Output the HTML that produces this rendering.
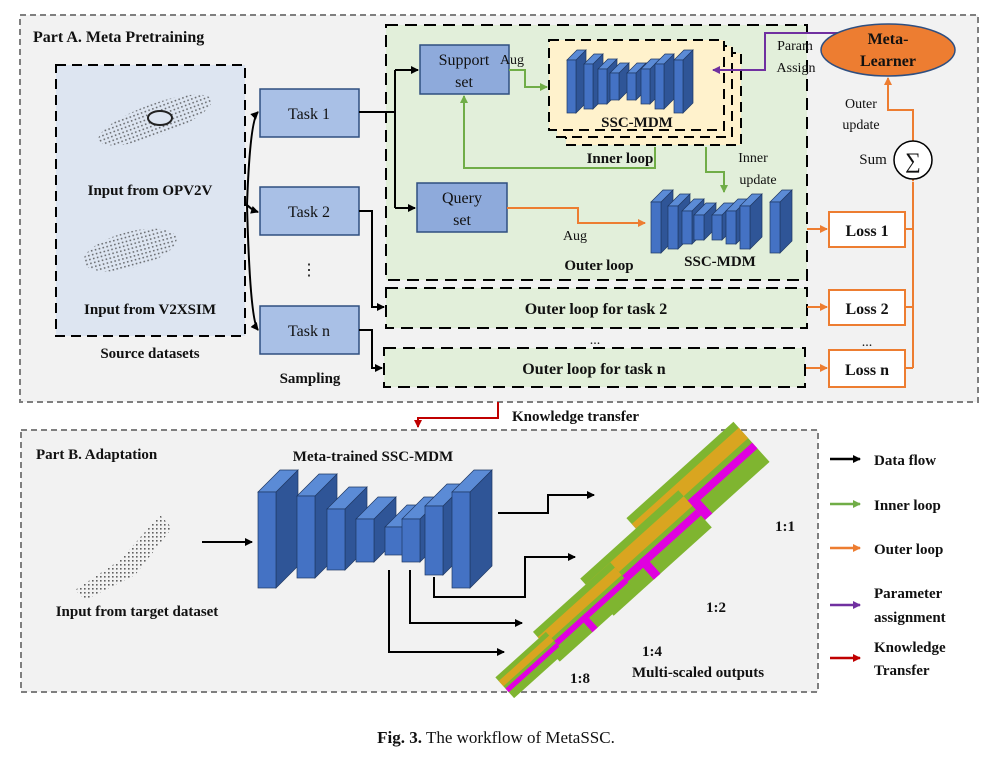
<!DOCTYPE html>
<html><head><meta charset="utf-8"><style>
html,body{margin:0;padding:0;background:#fff;}
svg{display:block;}
text{font-family:"Liberation Serif",serif;fill:#111;}
.b{font-weight:bold;}
</style></head><body>
<svg id="s" width="992" height="758" viewBox="0 0 992 758" xmlns="http://www.w3.org/2000/svg">
<defs>
<marker id="ak" markerWidth="8" markerHeight="8" refX="7" refY="4" orient="auto" markerUnits="userSpaceOnUse"><path d="M0,0 L8,4 L0,8 z" fill="#000"/></marker>
<marker id="ag" markerWidth="8" markerHeight="8" refX="7" refY="4" orient="auto" markerUnits="userSpaceOnUse"><path d="M0,0 L8,4 L0,8 z" fill="#70ad47"/></marker>
<marker id="ao" markerWidth="8" markerHeight="8" refX="7" refY="4" orient="auto" markerUnits="userSpaceOnUse"><path d="M0,0 L8,4 L0,8 z" fill="#ed7d31"/></marker>
<marker id="ap" markerWidth="8" markerHeight="8" refX="7" refY="4" orient="auto" markerUnits="userSpaceOnUse"><path d="M0,0 L8,4 L0,8 z" fill="#7030a0"/></marker>
<marker id="ar" markerWidth="8" markerHeight="8" refX="7" refY="4" orient="auto" markerUnits="userSpaceOnUse"><path d="M0,0 L8,4 L0,8 z" fill="#c00000"/></marker>
<pattern id="dots" width="4" height="4" patternUnits="userSpaceOnUse"><rect width="1.6" height="1.6" fill="#222"/></pattern>
</defs>

<!-- Part A -->
<rect x="20" y="15" width="958" height="387" fill="#f2f2f2" stroke="#7f7f7f" stroke-width="2" stroke-dasharray="6,4"/>
<text x="33" y="42" class="b" font-size="16">Part A. Meta Pretraining</text>
<rect x="56" y="65" width="189" height="271" fill="#dde5f1" stroke="#000" stroke-width="2" stroke-dasharray="10,6"/>
<g fill="url(#dots)" opacity="0.6">
<ellipse cx="155" cy="120" rx="60" ry="16" transform="rotate(-20 155 120)"/>
<ellipse cx="130" cy="250" rx="48" ry="18" transform="rotate(-15 130 250)"/>
</g>
<ellipse cx="160" cy="118" rx="12" ry="7" fill="#dde5f1" stroke="#222" stroke-width="2"/>
<text x="150" y="195" class="b" font-size="15" text-anchor="middle">Input from OPV2V</text>
<text x="150" y="314" class="b" font-size="15" text-anchor="middle">Input from V2XSIM</text>
<text x="150" y="358" class="b" font-size="15" text-anchor="middle">Source datasets</text>

<g fill="#a9c0e6" stroke="#2f4f80" stroke-width="1.5">
<rect x="260" y="89" width="99" height="48"/>
<rect x="260" y="187" width="99" height="48"/>
<rect x="260" y="306" width="99" height="48"/>
</g>
<text x="309" y="119" font-size="16" text-anchor="middle">Task 1</text>
<text x="309" y="217" font-size="16" text-anchor="middle">Task 2</text>
<text x="309" y="336" font-size="16" text-anchor="middle">Task n</text>
<text x="309" y="275" font-size="16" text-anchor="middle">⋮</text>
<text x="310" y="383" class="b" font-size="15" text-anchor="middle">Sampling</text>
<g fill="none" stroke="#000" stroke-width="2">
<path d="M247,205 Q250,120 258,112" marker-end="url(#ak)"/>
<path d="M247,205 Q252,210 258,212" marker-end="url(#ak)"/>
<path d="M247,205 Q250,320 258,330" marker-end="url(#ak)"/>
</g>

<!-- green region -->
<rect x="386" y="25" width="421" height="255" fill="#e2efda" stroke="#000" stroke-width="2" stroke-dasharray="12,7"/>
<rect x="386" y="288" width="421" height="40" fill="#e2efda" stroke="#000" stroke-width="2" stroke-dasharray="12,7"/>
<rect x="384" y="348" width="421" height="39" fill="#e2efda" stroke="#000" stroke-width="2" stroke-dasharray="12,7"/>
<text x="596" y="314" class="b" font-size="16" text-anchor="middle">Outer loop for task 2</text>
<text x="594" y="374" class="b" font-size="16" text-anchor="middle">Outer loop for task n</text>
<text x="595" y="344" font-size="14" text-anchor="middle">...</text>

<g fill="none" stroke="#000" stroke-width="2">
<path d="M359,112 L395,112"/>
<path d="M395,70 L395,208"/>
<path d="M395,70 L418,70" marker-end="url(#ak)"/>
<path d="M395,208 L415,208" marker-end="url(#ak)"/>
<path d="M359,211 L372,211 L372,307 L384,307" marker-end="url(#ak)"/>
<path d="M359,330 L372,330 L372,368 L382,368" marker-end="url(#ak)"/>
</g>

<rect x="420" y="45" width="89" height="49" fill="#8eaadb" stroke="#2f4f80" stroke-width="1.5"/>
<text x="464" y="65" font-size="16" text-anchor="middle">Support</text>
<text x="464" y="87" font-size="16" text-anchor="middle">set</text>
<rect x="417" y="183" width="90" height="49" fill="#8eaadb" stroke="#2f4f80" stroke-width="1.5"/>
<text x="462" y="203" font-size="16" text-anchor="middle">Query</text>
<text x="462" y="225" font-size="16" text-anchor="middle">set</text>

<rect x="566" y="53" width="175" height="92" fill="#fff2cc" stroke="#000" stroke-width="2" stroke-dasharray="10,6"/>
<rect x="557" y="46" width="175" height="91" fill="#fff2cc" stroke="#000" stroke-width="2" stroke-dasharray="10,6"/>
<rect x="549" y="40" width="175" height="90" fill="#fff2cc" stroke="#000" stroke-width="2" stroke-dasharray="10,6"/>
<g id="inner"></g>
<text x="637" y="127" class="b" font-size="15" text-anchor="middle">SSC-MDM</text>
<text x="620" y="163" class="b" font-size="15" text-anchor="middle">Inner loop</text>
<text x="512" y="64" font-size="14" text-anchor="middle">Aug</text>
<text x="753" y="162" font-size="14" text-anchor="middle">Inner</text>
<text x="758" y="184" font-size="14" text-anchor="middle">update</text>

<g fill="none" stroke="#70ad47" stroke-width="2">
<path d="M509,70 L525,70 L525,87 L547,87" marker-end="url(#ag)"/>
<path d="M655,147 L655,168 L464,168 L464,96" marker-end="url(#ag)"/>
<path d="M706,147 L706,172 L724,172 L724,192" marker-end="url(#ag)"/>
</g>

<g id="outer"></g>
<text x="720" y="266" class="b" font-size="15" text-anchor="middle">SSC-MDM</text>
<text x="599" y="270" class="b" font-size="15" text-anchor="middle">Outer loop</text>
<text x="575" y="240" font-size="14" text-anchor="middle">Aug</text>
<g fill="none" stroke="#ed7d31" stroke-width="2">
<path d="M507,208 L578,208 L578,223 L645,223" marker-end="url(#ao)"/>
<path d="M807,229 L827,229" marker-end="url(#ao)"/>
<path d="M807,307 L827,307" marker-end="url(#ao)"/>
<path d="M806,368 L827,368" marker-end="url(#ao)"/>
<path d="M905,229 L913,229 M905,307 L913,307 M905,368 L913,368 M913,368 L913,182"/>
<path d="M913,179 L913,181" marker-end="url(#ao)"/>
<path d="M913,141 L913,110 L888,110 L888,78" marker-end="url(#ao)"/>
</g>
<g fill="#fff" stroke="#ed7d31" stroke-width="2">
<rect x="829" y="212" width="76" height="35"/>
<rect x="829" y="290" width="76" height="35"/>
<rect x="829" y="350" width="76" height="37"/>
</g>
<text x="867" y="236" class="b" font-size="16" text-anchor="middle">Loss 1</text>
<text x="867" y="314" class="b" font-size="16" text-anchor="middle">Loss 2</text>
<text x="867" y="375" class="b" font-size="16" text-anchor="middle">Loss n</text>
<text x="867" y="346" font-size="14" text-anchor="middle">...</text>
<circle cx="913" cy="160" r="19" fill="#fff" stroke="#000" stroke-width="1.5"/>
<text x="913" y="168" font-size="22" text-anchor="middle">∑</text>
<text x="873" y="164" font-size="15" text-anchor="middle">Sum</text>
<text x="861" y="108" font-size="14" text-anchor="middle">Outer</text>
<text x="861" y="129" font-size="14" text-anchor="middle">update</text>

<path d="M845,33 L765,33 L765,70 L713,70" fill="none" stroke="#7030a0" stroke-width="2" marker-end="url(#ap)"/>
<ellipse cx="888" cy="50" rx="67" ry="26" fill="#ed7d31" stroke="#2f4f80" stroke-width="1.5"/>
<text x="888" y="44" class="b" font-size="16" text-anchor="middle">Meta-</text>
<text x="888" y="66" class="b" font-size="16" text-anchor="middle">Learner</text>
<text x="795" y="50" font-size="14" text-anchor="middle">Param</text>
<text x="796" y="72" font-size="14" text-anchor="middle">Assign</text>

<path d="M498,402 L498,418 L418,418 L418,427" fill="none" stroke="#c00000" stroke-width="2" marker-end="url(#ar)"/>
<text x="512" y="421" class="b" font-size="15">Knowledge transfer</text>

<!-- Part B -->
<rect x="21" y="430" width="797" height="262" fill="#f2f2f2" stroke="#7f7f7f" stroke-width="2" stroke-dasharray="6,4"/>
<text x="36" y="459" class="b" font-size="15">Part B. Adaptation</text>
<text x="373" y="461" class="b" font-size="15" text-anchor="middle">Meta-trained SSC-MDM</text>
<g fill="url(#dots)" opacity="0.7">
<path d="M75,590 L120,560 L160,515 L172,528 L135,575 L85,600 z"/>
</g>
<text x="137" y="616" class="b" font-size="15" text-anchor="middle">Input from target dataset</text>
<path d="M202,542 L252,542" stroke="#000" stroke-width="2" marker-end="url(#ak)"/>
<g id="big"></g>
<g fill="none" stroke="#000" stroke-width="2">
<path d="M498,513 L548,513 L548,495 L594,495" marker-end="url(#ak)"/>
<path d="M434,577 L434,597 L525,597 L525,557 L575,557" marker-end="url(#ak)"/>
<path d="M410,570 L410,623 L522,623" marker-end="url(#ak)"/>
<path d="M389,570 L389,652 L504,652" marker-end="url(#ak)"/>
</g>
<g>
<g transform="translate(698,490) rotate(-42)"><rect x="-72" y="-27" width="144" height="54" fill="#7fb530"/><rect x="-72" y="-19" width="144" height="14" fill="#d9a520"/><rect x="-72" y="1" width="144" height="8" fill="#e000e0"/><rect x="-15" y="1" width="10" height="26" fill="#e000e0"/></g>
<g transform="translate(646,553) rotate(-42)"><rect x="-66" y="-25" width="132" height="50" fill="#7fb530"/><rect x="-66" y="-17" width="132" height="13" fill="#d9a520"/><rect x="-66" y="1" width="132" height="8" fill="#e000e0"/><rect x="-12" y="1" width="9" height="24" fill="#e000e0"/></g>
<g transform="translate(585,612) rotate(-42)"><rect x="-52" y="-20" width="104" height="40" fill="#7fb530"/><rect x="-52" y="-13" width="104" height="10" fill="#d9a520"/><rect x="-52" y="1" width="104" height="6" fill="#e000e0"/><rect x="-8" y="1" width="7" height="19" fill="#e000e0"/></g>
<g transform="translate(530,665) rotate(-42)"><rect x="-34" y="-14" width="68" height="28" fill="#7fb530"/><rect x="-34" y="-9" width="68" height="7" fill="#d9a520"/><rect x="-34" y="1" width="68" height="5" fill="#e000e0"/></g>
</g>
<text x="775" y="531" class="b" font-size="15">1:1</text>
<text x="706" y="612" class="b" font-size="15">1:2</text>
<text x="642" y="656" class="b" font-size="15">1:4</text>
<text x="570" y="683" class="b" font-size="15">1:8</text>
<text x="632" y="677" class="b" font-size="15">Multi-scaled outputs</text>

<path d="M830,459 L860,459" stroke="#000" stroke-width="2.5" marker-end="url(#ak)"/>
<path d="M830,504 L860,504" stroke="#70ad47" stroke-width="2.5" marker-end="url(#ag)"/>
<path d="M830,548 L860,548" stroke="#ed7d31" stroke-width="2.5" marker-end="url(#ao)"/>
<path d="M830,605 L860,605" stroke="#7030a0" stroke-width="2.5" marker-end="url(#ap)"/>
<path d="M830,658 L860,658" stroke="#c00000" stroke-width="2.5" marker-end="url(#ar)"/>
<g font-size="15">
<text x="874" y="465" class="b">Data flow</text>
<text x="874" y="510" class="b">Inner loop</text>
<text x="874" y="554" class="b">Outer loop</text>
<text x="874" y="598" class="b">Parameter</text>
<text x="874" y="622" class="b">assignment</text>
<text x="874" y="652" class="b">Knowledge</text>
<text x="874" y="675" class="b">Transfer</text>
</g>
<text x="496" y="743" font-size="17" text-anchor="middle"><tspan font-weight="bold">Fig. 3.</tspan> The workflow of MetaSSC.</text>
</svg>
<script>
function slabs(id,list,w,d){
  var g=document.getElementById(id),s='';
  list.forEach(function(a){
    var x=a[0],y1=a[1],y2=a[2];
    s+='<polygon points="'+(x+w)+','+y1+' '+(x+w+d)+','+(y1-d)+' '+(x+w+d)+','+(y2-d)+' '+(x+w)+','+y2+'" fill="#2f5597" stroke="#1f3864" stroke-width="0.7"/>';
    s+='<polygon points="'+x+','+y1+' '+(x+d)+','+(y1-d)+' '+(x+w+d)+','+(y1-d)+' '+(x+w)+','+y1+'" fill="#5b8bd6" stroke="#1f3864" stroke-width="0.7"/>';
    s+='<rect x="'+x+'" y="'+y1+'" width="'+w+'" height="'+(y2-y1)+'" fill="#4472c4" stroke="#1f3864" stroke-width="0.7"/>';
  });
  g.innerHTML=s;
}
slabs('inner',[[567,60,113],[584,64,109],[598,69,104],[610,73,100],[627,73,100],[641,69,104],[655,64,109],[674,60,113]],9,10);
slabs('outer',[[651,202,253],[668,206,249],[682,211,244],[694,215,240],[712,215,240],[726,211,244],[740,206,249],[770,202,253]],10,12);
slabs('big',[[258,492,588],[297,496,578],[327,509,570],[356,519,562],[385,527,555],[402,519,562],[425,506,575],[452,492,588]],18,22);
</script>
</body></html>
